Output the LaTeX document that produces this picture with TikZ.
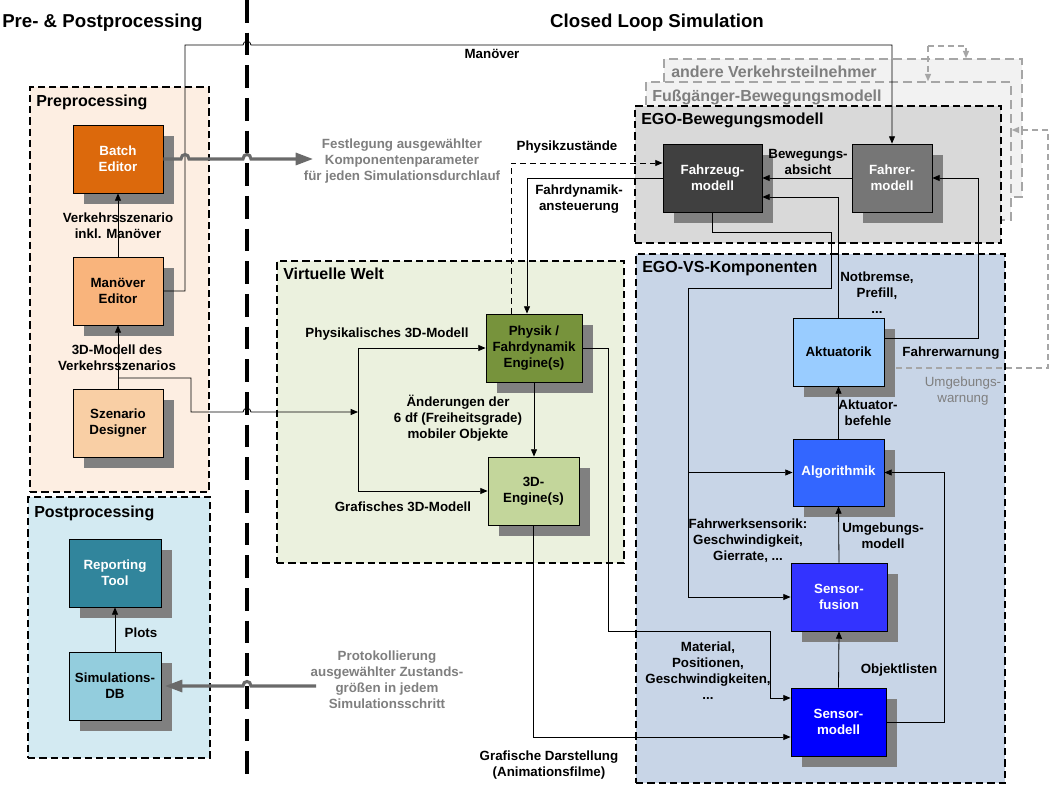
\documentclass[tikz,border=0pt]{standalone}
\usepackage{fontspec}
\setmainfont{Liberation Sans}
\usetikzlibrary{arrows.meta,shadows,fit}
\definecolor{preBG}{HTML}{FDEEE2}
\definecolor{postBG}{HTML}{D3EAF2}
\definecolor{vwBG}{HTML}{EBF1DE}
\definecolor{egobBG}{HTML}{D9D9D9}
\definecolor{otherBG}{HTML}{F2F2F2}
\definecolor{egovsBG}{HTML}{C8D5E7}
\definecolor{shadowgray}{HTML}{808080}
\definecolor{batchC}{HTML}{DC690C}
\definecolor{manC}{HTML}{F9B47C}
\definecolor{szC}{HTML}{F9CFA5}
\definecolor{repC}{HTML}{31859C}
\definecolor{dbC}{HTML}{93CDDD}
\definecolor{physC}{HTML}{77933C}
\definecolor{engC}{HTML}{C3D69B}
\definecolor{fzmC}{HTML}{404040}
\definecolor{famC}{HTML}{767676}
\definecolor{aktC}{HTML}{99CCFF}
\definecolor{algoC}{HTML}{3366FF}
\definecolor{sfusC}{HTML}{3333FF}
\definecolor{smodC}{HTML}{0000FF}
\definecolor{txtgray}{HTML}{7F7F7F}
\definecolor{dashgray}{HTML}{A6A6A6}
\definecolor{thickgray}{HTML}{6A6A6A}
\newcommand{\lblfont}{\fontsize{10}{12}\selectfont\bfseries}
\newcommand{\regfont}{\fontsize{10}{12}\selectfont}
\newcommand{\grpfont}{\fontsize{12}{14}\selectfont\bfseries}
\newcommand{\bigfont}{\fontsize{14}{17}\selectfont\bfseries}
\begin{document}
\begin{tikzpicture}[x=0.75pt,y=-0.75pt,
  grp/.style={draw=black, line width=1.1pt, dash pattern=on 5.5pt off 3pt, inner sep=0pt},
  grpgray/.style={draw=dashgray, line width=1.1pt, dash pattern=on 7pt off 3.5pt, inner sep=0pt, fill=otherBG},
  grptitle/.style={anchor=base west, font=\grpfont, inner sep=0pt},
  box/.style={draw=black, line width=0.6pt, inner sep=1pt, align=center, font=\lblfont,
    minimum height=51pt, drop shadow={shadow xshift=8.25pt, shadow yshift=-8.25pt, fill=shadowgray, opacity=1}},
  lbl/.style={font=\lblfont, align=center, inner sep=0pt},
  glbl/.style={font=\lblfont, align=center, inner sep=0pt, text=txtgray},
  con/.style={draw=black, line width=0.6pt},
  arr/.style={con, -{Triangle[length=5.5pt,width=4.5pt]}},
  thick gray arrow/.style={draw=thickgray, line width=2.3pt, -{Triangle[length=13pt,width=9pt]}},
  gdash/.style={draw=dashgray, line width=0.9pt, dash pattern=on 4.5pt off 3pt, -{Triangle[length=5.5pt,width=4.5pt]}, dashgray}
]
\useasboundingbox (0,0) rectangle (1049,798);
\fill[white] (0,0) rectangle (1049,798);

% group boxes
\node[grpgray, fit={(664,59) (1022,197)}] (andere) {};
\node[grpgray, fit={(646,82) (1011,220)}] (fuss) {};
\node[grp, fill=egobBG, fit={(635,106) (1001,243)}] (egob) {};
\node[grp, fill=preBG, fit={(30,87) (209,492)}] (pre) {};
\node[grp, fill=postBG, fit={(28,497) (210,758)}] (post) {};
\node[grp, fill=vwBG, fit={(277,261) (624,563)}] (vw) {};
\node[grp, fill=egovsBG, fit={(636,254) (1005,783)}] (egovs) {};

\node[grptitle, text=txtgray] (tandere) at (671,78) {andere Verkehrsteilnehmer};
\node[grptitle, text=txtgray] (tfuss) at (652,102) {Fußgänger-Bewegungsmodell};
\node[grptitle] (tegob) at (641,125) {EGO-Bewegungsmodell};
\node[grptitle] (tpre) at (36,107) {Preprocessing};
\node[grptitle] (tpost) at (34,517) {Postprocessing};
\node[grptitle] (tvw) at (283,280) {Virtuelle Welt};
\node[grptitle] (tegovs) at (642,273) {EGO-VS-Komponenten};

% separator
\coordinate (sepTop) at (247,0);
\coordinate (sepBot) at (247,783);
\draw[line width=2.3pt, dash pattern=on 17pt off 7.5pt] (sepTop) -- (sepBot);

% main titles
\node[font=\bigfont, anchor=west, inner sep=0pt] (title1) at (2,23) {Pre- \& Postprocessing};
\node[font=\bigfont, inner sep=0pt] (title2) at (657,23) {Closed Loop Simulation};

% blocks
\node[box, fill=batchC, text=white, minimum width=67.5pt] (batch) at (118,159) {Batch\\Editor};
\node[box, fill=manC, minimum width=67.5pt] (manoever) at (118,291) {Manöver\\Editor};
\node[box, fill=szC, minimum width=67.5pt] (szenario) at (118,423) {Szenario\\Designer};
\node[box, fill=repC, text=white, minimum width=69pt] (report) at (115,573) {Reporting\\Tool};
\node[box, fill=dbC, minimum width=69pt] (simdb) at (115,686) {Simulations-\\DB};
\node[box, fill=physC, minimum width=72pt] (physik) at (534,348) {Physik /\\Fahrdynamik\\Engine(s)};
\node[box, fill=engC, minimum width=68.25pt] (engine) at (533.5,491) {3D-\\Engine(s)};
\node[box, fill=fzmC, text=white, minimum width=74.25pt] (fzm) at (712.5,178) {Fahrzeug-\\modell};
\node[box, fill=famC, text=white, minimum width=60pt] (fam) at (892,178) {Fahrer-\\modell};
\node[box, fill=aktC, minimum width=68.25pt] (akt) at (838.5,352) {Aktuatorik};
\node[box, fill=algoC, text=white, minimum width=68.25pt, minimum height=50.25pt] (algo) at (838.5,472.5) {Algorithmik};
\node[box, fill=sfusC, text=white, minimum width=72pt] (sfus) at (839,597) {Sensor-\\fusion};
\node[box, fill=smodC, text=white, minimum width=71.25pt] (smod) at (838.5,722) {Sensor-\\modell};

% preprocessing connectors
\draw[arr] (manoever.north) -- (batch.south);
\draw[arr] (szenario.north) -- (manoever.south);
\coordinate (sz0) at (118,378);
\coordinate (j1) at (358,412);
\draw[arr] (sz0) -- (191,378) -- (191,412) -- (243,412) .. controls (243,407) and (251,407) .. (251,412) -- (j1);
\draw[con] (j1 |- physik.west) -- (j1 |- engine.west);
\draw[arr] (j1 |- physik.west) -- (physik.west);
\draw[arr] (j1 |- engine.west) -- (engine.west);

% Manoever line
\draw[arr] (manoever.east) -- (185,291) -- (185,45) -- (243,45) .. controls (243,40) and (251,40) .. (251,45) -| (fam.north);

% thick gray arrows
\coordinate (festEnd) at (313,159);
\draw[thick gray arrow] (batch.east) -- (181,159) .. controls (181,153) and (189,153) .. (189,159) -- (243,159) .. controls (243,153) and (251,153) .. (251,159) -- (festEnd);
\coordinate (protStart) at (316,686);
\draw[thick gray arrow] (protStart) -- (251,686) .. controls (251,680) and (243,680) .. (243,686) -- (165,686);

% postprocessing
\draw[arr] (simdb.north) -- (report.south);

% virtual world
\draw[arr] (physik.south) -- (physik.south |- engine.north);
\draw[arr] (physik.east) -- (608,348) -- (608,631) -- (770,631) -- (770,698) -- ([yshift=18pt]smod.west);
\draw[arr] (engine.south) -- (533.5,737) -- ([yshift=-11.25pt]smod.west);
\draw[arr] (fzm.west) -| ([xshift=-5.25pt]physik.north);
\draw[arr, dash pattern=on 4.5pt off 3pt] ([xshift=-17.25pt]physik.north) |- ([yshift=11.25pt]fzm.west);

% EGO connectors
\draw[arr] (fam.west) -- (fzm.east);
\draw[arr] (akt.north) |- ([yshift=-14.25pt]fzm.east);
\draw[arr] ([yshift=10.5pt]akt.east) -- (978,338) |- (fam.east);
\coordinate (j2) at (688,472.5);
\draw[arr] (fzm.south) -- (712.5,232) -- (831,232) -- (831,288) -- (688,288) |- (sfus.west);
\draw[arr] (j2) -- (algo.west);
\draw[arr] (smod.north) -- (sfus.south);
\draw[arr] (sfus.north) -- (algo.south);
\draw[arr] (algo.north) -- (akt.south);
\draw[arr] (smod.east) -- (944,722) |- (algo.east);

% gray dashed arrows
\coordinate (uw0) at (896,368);
\draw[gdash] (uw0) -- (1048,368) -- (1048,130) -- (fuss.east |- 0,130);
\coordinate (top0) at (928,46);
\draw[gdash] (top0) -- (top0 |- fuss.north);
\draw[gdash] (top0) -- (966,46) -- (966,46 |- andere.north);

% labels
\node[lbl] (lvk) at (118,225.5) {Verkehrsszenario\\inkl. Manöver};
\node[lbl] (l3d) at (117,358) {3D-Modell des\\Verkehrsszenarios};
\node[lbl] (lplots) at (141,633) {Plots};
\node[glbl] (lfest) at (402,161) {Festlegung ausgewählter\\Komponentenparameter\\für jeden Simulationsdurchlauf};
\node[glbl] (lprot) at (387,680) {Protokollierung\\ausgewählter Zustands-\\größen in jedem\\Simulationsschritt};
\node[lbl] (lman) at (492,54) {Manöver};
\node[lbl] (lphys3d) at (387,334) {Physikalisches 3D-Modell};
\node[lbl] (lgraf3d) at (403,507) {Grafisches 3D-Modell};
\node[lbl] (laend) at (458,418) {Änderungen der\\6 df (Freiheitsgrade)\\mobiler Objekte};
\node[lbl] (lpz) at (567,147) {Physikzustände};
\node[lbl] (lfda) at (579,199) {Fahrdynamik-\\ansteuerung};
\node[lbl] (lba) at (808,161.5) {Bewegungs-\\absicht};
\node[lbl] (lnot) at (877,293) {Notbremse,\\Prefill,\\...};
\node[lbl] (lfw) at (951,353) {Fahrerwarnung};
\node[font=\regfont, text=txtgray, align=center, inner sep=0pt] (luw) at (963,391) {Umgebungs-\\warnung};
\node[lbl] (lab) at (868,413) {Aktuator-\\befehle};
\node[lbl] (lum) at (883,536) {Umgebungs-\\modell};
\node[lbl] (lfws) at (748,541) {Fahrwerksensorik:\\Geschwindigkeit,\\Gierrate, ...};
\node[lbl] (lobj) at (899,670) {Objektlisten};
\node[lbl] (lmat) at (708,671) {Material,\\Positionen,\\Geschwindigkeiten,\\...};
\node[lbl] (lgd) at (549,765) {Grafische Darstellung\\(Animationsfilme)};
\end{tikzpicture}
\end{document}
